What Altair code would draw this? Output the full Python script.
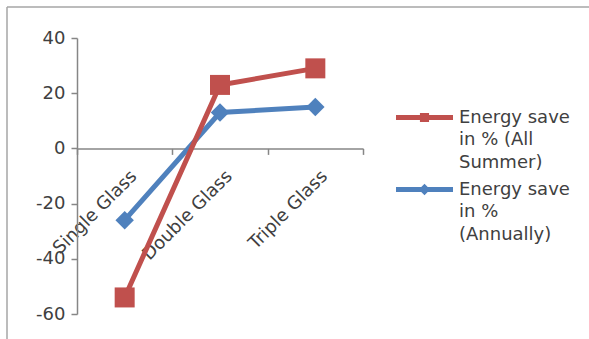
import altair as alt
import pandas as pd

categories = ["Single Glass", "Double Glass", "Triple Glass"]
series_names = ["Energy save in % (All Summer)", "Energy save in % (Annually)"]
all_summer = [-54, 23, 29]
annually = [-26, 13, 15]
y_ticks = [-60, -40, -20, 0, 20, 40]

rows = []
for c, v in zip(categories, all_summer):
    rows.append({"category": c, "value": v, "series": series_names[0]})
for c, v in zip(categories, annually):
    rows.append({"category": c, "value": v, "series": series_names[1]})
df = pd.DataFrame(rows)

FONT = "DejaVu Sans"
TXT = "#404040"
AX = "#868686"
colors = ["#C0504D", "#4F81BD"]
W, H = 286, 276

# legend symbols: line with marker in the middle (unit coordinates, wider than the unit box)
sym_square = "M-2,-0.18L2,-0.18L2,0.18L-2,0.18Z M-0.32,-0.32L0.32,-0.32L0.32,0.32L-0.32,0.32Z"
sym_diamond = "M-2,-0.18L2,-0.18L2,0.18L-2,0.18Z M0,-0.4L0.4,0L0,0.4L-0.4,0Z"

color_scale = alt.Scale(domain=series_names, range=colors)

x_enc = alt.X(
    "category:N",
    sort=categories,
    scale=alt.Scale(paddingInner=0, paddingOuter=0),
    axis=alt.Axis(
        title=None,
        offset=-H * 0.6,
        tickBand="extent",
        labelAngle=-45,
        labelAlign="right",
        labelBaseline="middle",
        labelOffset=9,
        labelPadding=19,
        labelFont=FONT,
        labelFontSize=18,
        labelColor=TXT,
        domainColor=AX,
        tickColor=AX,
        tickSize=6,
        domainWidth=1.5,
        tickWidth=1.5,
    ),
)
y_enc = alt.Y(
    "value:Q",
    scale=alt.Scale(domain=[-60, 40], nice=False, zero=False),
    axis=alt.Axis(
        title=None,
        values=y_ticks,
        grid=False,
        labelExpr="datum.value < 0 ? '-' + abs(datum.value) : '' + datum.value",
        labelFont=FONT,
        labelFontSize=18,
        labelColor=TXT,
        labelPadding=6,
        domainColor=AX,
        tickColor=AX,
        tickSize=6,
        domainWidth=1.5,
        tickWidth=1.5,
    ),
)

base = alt.Chart(df).encode(x=x_enc, y=y_enc)

layers = []
for name, shape, size in [(series_names[1], "diamond", 340), (series_names[0], "square", 400)]:
    filt = alt.datum.series == name
    layers.append(
        base.transform_filter(filt)
        .mark_line(strokeWidth=5)
        .encode(color=alt.Color("series:N", scale=color_scale, legend=None))
    )
    layers.append(
        base.transform_filter(filt)
        .mark_point(shape=shape, filled=True, size=size, opacity=1)
        .encode(color=alt.Color("series:N", scale=color_scale, legend=None))
    )

label_expr = (
    "datum.label == '" + series_names[0] + "' ? ['Energy save', 'in % (All', 'Summer)']"
    " : ['Energy save', 'in %', '(Annually)']"
)
legend = alt.Legend(
    title=None,
    orient="none",
    legendX=333,
    legendY=65,
    padding=0,
    symbolSize=812,
    symbolStrokeWidth=0,
    labelFont=FONT,
    labelFontSize=18,
    labelColor=TXT,
    labelOffset=20,
    labelLimit=0,
    labelExpr=label_expr,
    labelBaseline="middle",
    rowPadding=3,
)
legend_layer = (
    base.transform_filter("false")
    .mark_point(filled=True, opacity=1)
    .encode(
        color=alt.Color("series:N", scale=color_scale, legend=legend),
        shape=alt.Shape(
            "series:N",
            scale=alt.Scale(domain=series_names, range=[sym_square, sym_diamond]),
            legend=legend,
        ),
    )
)

border_left = alt.Chart(pd.DataFrame({"a": [0]})).mark_rule(color="#a6a6a6", strokeWidth=1.5).encode(
    x=alt.value(-70), y=alt.value(-31), y2=alt.value(H + 25)
)
border_top = alt.Chart(pd.DataFrame({"a": [0]})).mark_rule(color="#a6a6a6", strokeWidth=1.5).encode(
    y=alt.value(-31), x=alt.value(-70), x2=alt.value(589 - 77)
)

chart = (
    alt.layer(border_left, border_top, *layers, legend_layer)
    .resolve_legend(color="independent", shape="independent")
    .properties(
        width=W,
        height=H,
        autosize=alt.AutoSizeParams(type="none"),
        padding={"left": 77, "top": 38, "right": 589 - 77 - W, "bottom": 339 - 38 - H},
    )
    .configure(background="white", style={"guide-label": {"lineHeight": 22.5}})
    .configure_view(stroke=None)
)

chart.save("out.html", embed_options={"renderer": "svg", "actions": False})
